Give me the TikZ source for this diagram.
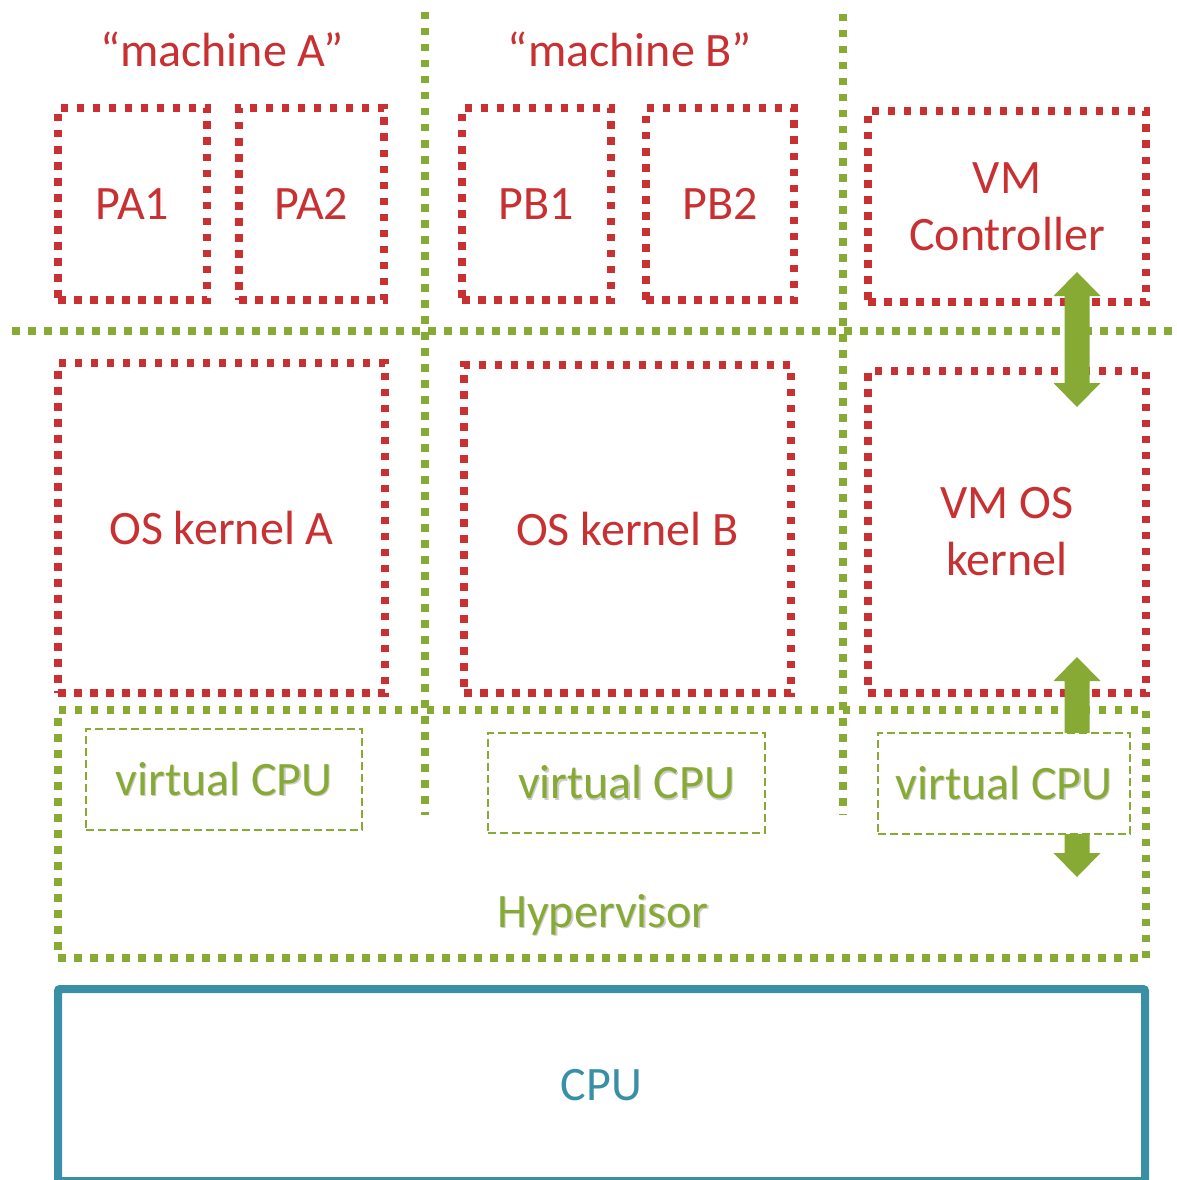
\documentclass[tikz,border=0pt]{standalone}
\usepackage{fontspec}
\setmainfont{Carlito}
\definecolor{vmred}{RGB}{200,48,50}
\definecolor{vmgreen}{RGB}{134,170,52}
\definecolor{cputeal}{RGB}{57,143,166}
% text with a faint drop shadow
\newcommand\softshadow[1]{\leavevmode\rlap{\kern1.3pt\raisebox{-1.3pt}{\textcolor{black!20}{#1}}}#1}
\begin{document}
\begin{tikzpicture}[x=1pt,y=-1pt,
  lbl/.style={font=\fontsize{48}{57}\selectfont, align=center, inner sep=0pt, outer sep=0pt},
  procbox/.style={lbl, draw=vmred, text=vmred, line width=7.5pt, dash pattern=on 7.5pt off 8.5pt},
  hyperbox/.style={draw=vmgreen, line width=7.5pt, dash pattern=on 7.5pt off 8.5pt, inner sep=0pt},
  sepline/.style={draw=vmgreen, line width=7.5pt, dash pattern=on 7.5pt off 8.5pt},
  vcpubox/.style={lbl, draw=vmgreen, text=vmgreen, fill=white, line width=2pt, dash pattern=on 8pt off 4pt},
  cpubox/.style={lbl, draw=cputeal, text=cputeal, line width=8pt, rounded corners=2pt},
  title/.style={lbl, text=vmred, anchor=base},
  flow/.style={fill=vmgreen},
  pics/dblarrow/.style={code={
    \fill[flow] (0,0) -- ++(23.5,24) -- ++(-11,0) -- ++(0,#1) -- ++(11,0) -- ++(-23.5,24)
      -- ++(-23.5,-24) -- ++(11,0) -- ++(0,-#1) -- ++(-11,0) -- cycle;}}
]
\useasboundingbox (0,0) rectangle (1176,1180);

% machine labels
\node[title] (ma) at (222,67) {“machine A”};
\node[title] (mb) at (630,67) {“machine B”};

% processes
\node[procbox, minimum width=149, minimum height=192] (pa1) at (132.5,204) {PA1};
\node[procbox, minimum width=145, minimum height=192] (pa2) at (311.5,204) {PA2};
\node[procbox, minimum width=149, minimum height=192] (pb1) at (536.5,204) {PB1};
\node[procbox, minimum width=148, minimum height=192] (pb2) at (720,204) {PB2};
\node[procbox, minimum width=278, minimum height=191] (vmc) at (1007,206.5) {VM\\Controller};

% kernels
\node[procbox, minimum width=327, minimum height=330] (osa) at (221.5,528) {OS kernel A};
\node[procbox, minimum width=327, minimum height=328] (osb) at (627.5,529) {OS kernel B};
\node[procbox, minimum width=278, minimum height=322] (vmos) at (1007,532) {VM OS\\kernel};

% hypervisor
\node[hyperbox, minimum width=1088, minimum height=248] (hyp) at (602,834) {};
\node[lbl, text=vmgreen, anchor=base] (hyplbl) at (603,927) {\softshadow{Hypervisor}};

% separators between the machines and between user space and kernels
\coordinate (s1top) at (425,12);  \coordinate (s1bot) at (425,815);
\coordinate (s2top) at (843,14);  \coordinate (s2bot) at (843,815);
\coordinate (hl) at (12,331);     \coordinate (hr) at (1176,331);
\draw[sepline] (s1top) -- (s1bot);
\draw[sepline] (s2top) -- (s2bot);
\draw[sepline] (hl) -- (hr);

% block arrows of the VM stack
\coordinate (tipA) at (1077,272);
\coordinate (tipB) at (1077,657);
\pic at (tipA) {dblarrow=87};
\pic at (tipB) {dblarrow=172};

% virtual CPUs
\node[vcpubox, minimum width=276, minimum height=101] (vc1) at (224,779.5) {\softshadow{virtual CPU}};
\node[vcpubox, minimum width=277, minimum height=100] (vc2) at (626.5,783) {\softshadow{virtual CPU}};
\node[vcpubox, minimum width=252, minimum height=101] (vc3) at (1004,783.5) {\softshadow{virtual CPU}};

% physical CPU
\node[cpubox, minimum width=1087, minimum height=192] (cpu) at (601.5,1085) {CPU};
\end{tikzpicture}
\end{document}
